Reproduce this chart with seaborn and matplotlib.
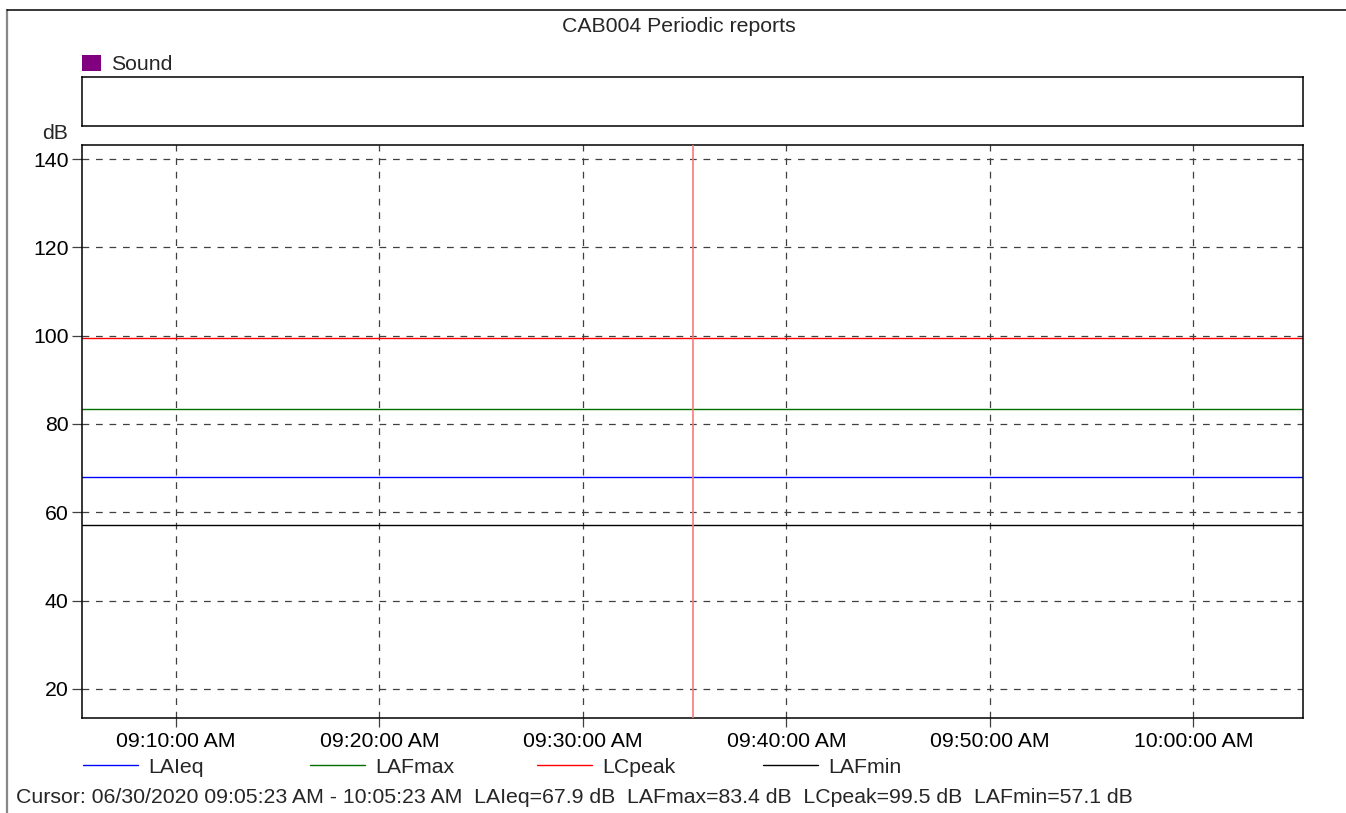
import matplotlib
matplotlib.use("Agg")
import matplotlib.pyplot as plt
import matplotlib.dates as mdates
from matplotlib.lines import Line2D
from matplotlib.patches import Patch
import numpy as np
import pandas as pd
import seaborn as sns

# ---- data ----
times = ["2020-06-30 09:05:23", "2020-06-30 10:05:23"]
laieq = [67.9, 67.9]
lafmax = [83.4, 83.4]
lcpeak = [99.5, 99.5]
lafmin = [57.1, 57.1]
series_names = ["LAIeq", "LAFmax", "LCpeak", "LAFmin"]
series_colors = ["#0000ff", "#007000", "#ff0000", "#000000"]
cursor_time = "2020-06-30 09:35:23"
y_ticks = [20, 40, 60, 80, 100, 120, 140]
title = "CAB004 Periodic reports"
cursor_text = ("Cursor: 06/30/2020 09:05:23 AM - 10:05:23 AM  LAIeq=67.9 dB  "
               "LAFmax=83.4 dB  LCpeak=99.5 dB  LAFmin=57.1 dB")

t = pd.to_datetime(times)
df = pd.concat([
    pd.DataFrame({"time": t, "value": v, "series": n})
    for n, v in zip(series_names, [laieq, lafmax, lcpeak, lafmin])
], ignore_index=True)

sns.set_style("white")
plt.rcParams["font.family"] = ["Liberation Sans", "DejaVu Sans"]
FS = 15.3
FPX = FS * 100 / 72

W, H = 1346, 813
fig = plt.figure(figsize=(W / 100, H / 100), dpi=100)

def fx(px):
    return px / W

def fy(py):
    return 1 - py / H

# main axes
ax = fig.add_axes([fx(82), fy(718), fx(1303) - fx(82), fy(145) - fy(718)])
sns.lineplot(data=df, x="time", y="value", hue="series", hue_order=series_names,
             palette=series_colors, linewidth=1.0, legend=False, ax=ax)
ax.axvline(pd.Timestamp(cursor_time), color="#f77a7a", lw=1.2, zorder=5)

ax.set_xlim(t[0], t[-1])
ax.set_ylim(13.4, 143.2)
ax.set_yticks(y_ticks)
ax.xaxis.set_major_locator(mdates.MinuteLocator(byminute=range(0, 60, 10)))
ax.xaxis.set_major_formatter(mdates.DateFormatter("%I:%M:%S %p"))
ax.set_xlabel("")
ax.set_ylabel("")
ax.grid(True, which="major", linestyle=(0, (5.4, 5.4)), color="#404040", lw=0.9)
ax.tick_params(axis="y", direction="out", length=7.2, width=0.9, color="#404040",
               pad=2.5, labelsize=FS, labelcolor="black", left=True)
ax.tick_params(axis="x", direction="out", length=6.5, width=0.9, color="#404040",
               pad=3.5, labelsize=FS, labelcolor="black", bottom=True)
for s in ax.spines.values():
    s.set_color("black")
    s.set_linewidth(1.1)
    s.set_visible(True)

# sound box
axs = fig.add_axes([fx(82), fy(126), fx(1303) - fx(82), fy(77) - fy(126)])
axs.set_xticks([])
axs.set_yticks([])
for s in axs.spines.values():
    s.set_color("black")
    s.set_linewidth(1.1)
    s.set_visible(True)

fig.legend(handles=[Patch(facecolor="#800080", edgecolor="none")], labels=["Sound"],
           loc="center left", bbox_to_anchor=(fx(82), fy(64.5)), frameon=False,
           fontsize=FS, borderpad=0, borderaxespad=0, handlelength=19 / FPX,
           handleheight=17 / FPX, handletextpad=10 / FPX)

# bottom legends
leg_x = [83, 310, 537, 763]
for name, col, x0 in zip(series_names, series_colors, leg_x):
    fig.legend(handles=[Line2D([], [], color=col, lw=1.0)], labels=[name],
               loc="center left", bbox_to_anchor=(fx(x0), fy(767)), frameon=False,
               fontsize=FS, borderpad=0, borderaxespad=0, handlelength=55 / FPX,
               handletextpad=10 / FPX)

# texts
fig.text(fx(678.5), fy(32), title, ha="center", va="baseline", fontsize=FS)
fig.text(fx(68), fy(139), "dB", ha="right", va="baseline", fontsize=FS)
fig.text(fx(16), fy(803), cursor_text, ha="left", va="baseline", fontsize=FS)

# outer frame
fig.add_artist(Line2D([fx(7), fx(7)], [0, fy(10)], transform=fig.transFigure,
                      color="#888888", lw=1.6))
fig.add_artist(Line2D([fx(7), 1], [fy(10), fy(10)], transform=fig.transFigure,
                      color="black", lw=1.1))

fig.savefig("out.png", dpi=100, facecolor="white")
